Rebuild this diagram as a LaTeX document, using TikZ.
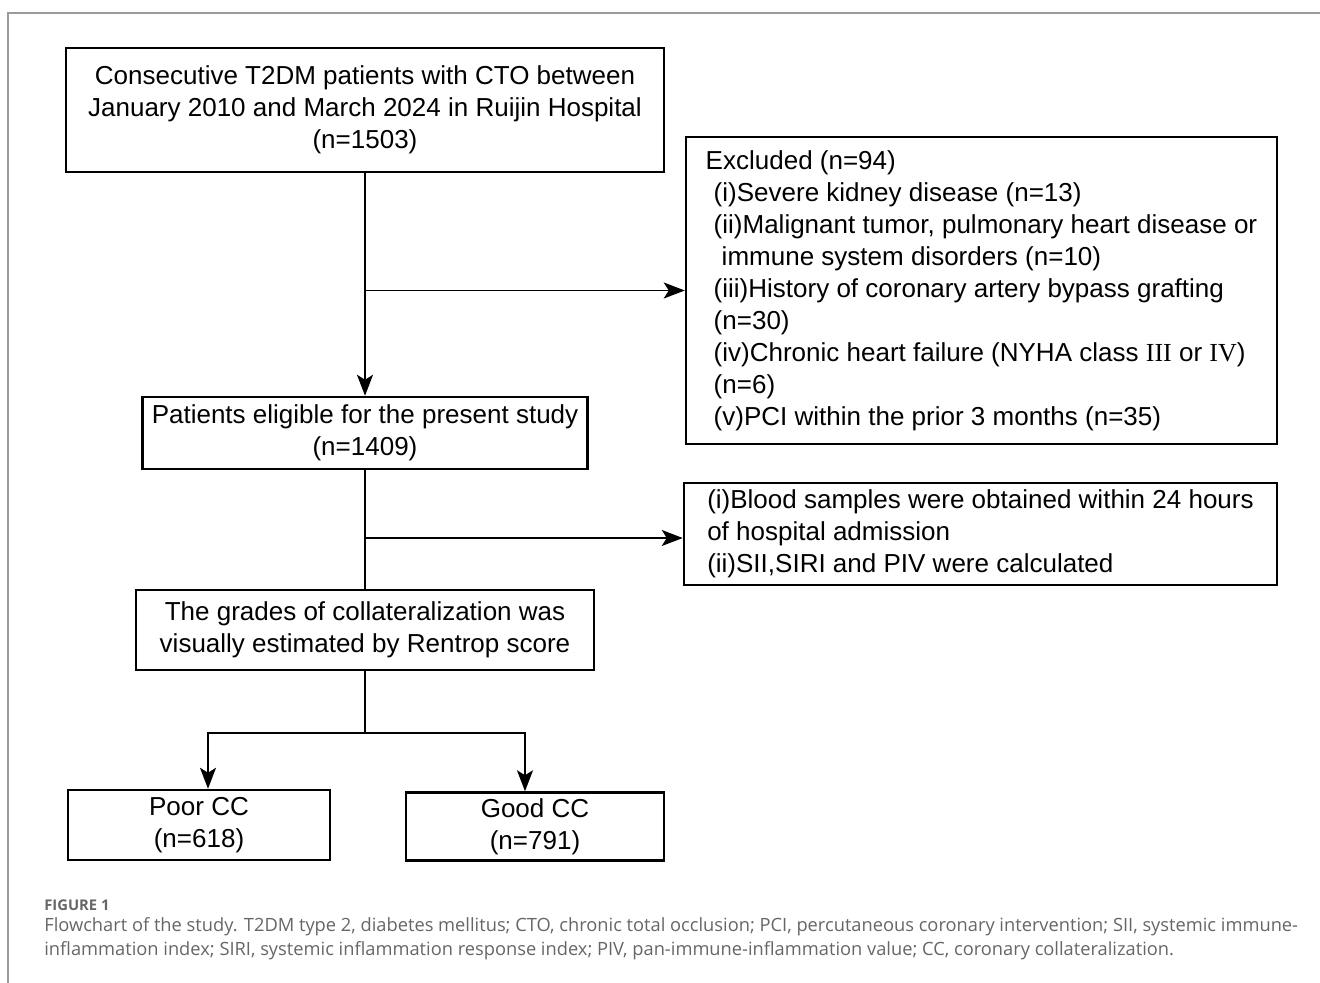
\documentclass[tikz,border=0pt]{standalone}
\usepackage{fontspec}
\setmainfont{Liberation Sans}
\newfontfamily\romfont{Liberation Serif}
\newfontfamily\capfont{Open Sans}
\usepackage{tikz}
\usetikzlibrary{shapes,arrows.meta,positioning,calc}
\definecolor{framegray}{HTML}{9A9A9A}
\definecolor{capgray}{HTML}{666666}
\newcommand{\ind}{\hspace*{0.16cm}}
\tikzstyle{block} = [rectangle, draw, line width=1.4pt, inner sep=0pt,
    align=center, font=\fontsize{14.8}{18.2}\selectfont]
\tikzstyle{sidebox} = [block, align=left]
\tikzstyle{line} = [draw, line width=1.1pt,
    -{Stealth[length=0.42cm, width=0.32cm, inset=0.1cm]}]

\begin{document}
\begin{tikzpicture}[node distance = 2.5cm, auto]
  \useasboundingbox (0,0) rectangle (26.4,-19.66);
  % Frame
  \draw [framegray, line width=0.9pt] (26.4,-0.26) -- (0.16,-0.26) -- (0.16,-19.66);
  % Place nodes
  \node [block, minimum width=11.96cm, minimum height=2.48cm] at (7.30,-2.20) (start)
    {Consecutive T2DM patients with CTO between\\
     January 2010 and March 2024 in Ruijin Hospital\\
     (n=1503)};
  \node [block, below of=start, node distance=6.46cm,
    minimum width=8.9cm, minimum height=1.44cm] (elig)
    {Patients eligible for the present study\\ (n=1409)};
  \node [block, below of=elig, node distance=3.94cm,
    minimum width=9.16cm, minimum height=1.6cm] (grade)
    {The grades of collateralization was\\ visually estimated by Rentrop score};
  \node [sidebox, minimum width=11.82cm, minimum height=6.14cm] at (19.63,-5.81) (excl)
    {Excluded (n=94)\\
     \ind(i)Severe kidney disease (n=13)\\
     \ind(ii)Malignant tumor, pulmonary heart disease or\\
     \ind\ind immune system disorders (n=10)\\
     \ind(iii)History of coronary artery bypass grafting\\
     \ind(n=30)\\
     \ind(iv)Chronic heart failure (NYHA class {\romfont III} or {\romfont IV})\\
     \ind(n=6)\\
     \ind(v)PCI within the prior 3 months (n=35)};
  \node [sidebox, minimum width=11.86cm, minimum height=2.04cm] at (19.61,-10.68) (blood)
    {(i)Blood samples were obtained within 24 hours\\
     of hospital admission\\
     (ii)SII,SIRI and PIV were calculated};
  \node [block, minimum width=5.24cm, minimum height=1.4cm] at (3.98,-16.5) (poor)
    {Poor CC\\ (n=618)};
  \node [block, minimum width=5.16cm, minimum height=1.36cm] at (10.70,-16.53) (good)
    {Good CC\\ (n=791)};
  % Draw edges
  \path [line] (start) -- (elig);
  \path [line] (start.south |- excl.west) -- (excl.west);
  \draw [line width=1.1pt] (elig) -- (grade);
  \path [line] ($(elig.south |- blood.west)+(0,-0.08)$) -- ($(blood.west)+(0,-0.08)$);
  \draw [line width=1.1pt] (grade.south) -- ++(0,-1.24) coordinate (split);
  \path [line] (split) -| ([xshift=0.18cm]poor.north);
  \path [line] (split) -| ([xshift=-0.2cm]good.north);
  % Caption
  \node [anchor=west, inner sep=0pt, text=capgray, font=\capfont\bfseries\fontsize{8.4}{9}\selectfont]
    at (0.88,-18.1) (fig) {FIGURE 1};
  \node [anchor=north west, inner sep=0pt, align=left, text=capgray,
    font=\capfont\fontsize{10.4}{13.6}\selectfont] at (0.88,-18.34) (cap)
    {Flowchart of the study. T2DM type 2, diabetes mellitus; CTO, chronic total occlusion; PCI, percutaneous coronary intervention; SII, systemic immune-\\
     inflammation index; SIRI, systemic inflammation response index; PIV, pan-immune-inflammation value; CC, coronary collateralization.};
\end{tikzpicture}
\end{document}
